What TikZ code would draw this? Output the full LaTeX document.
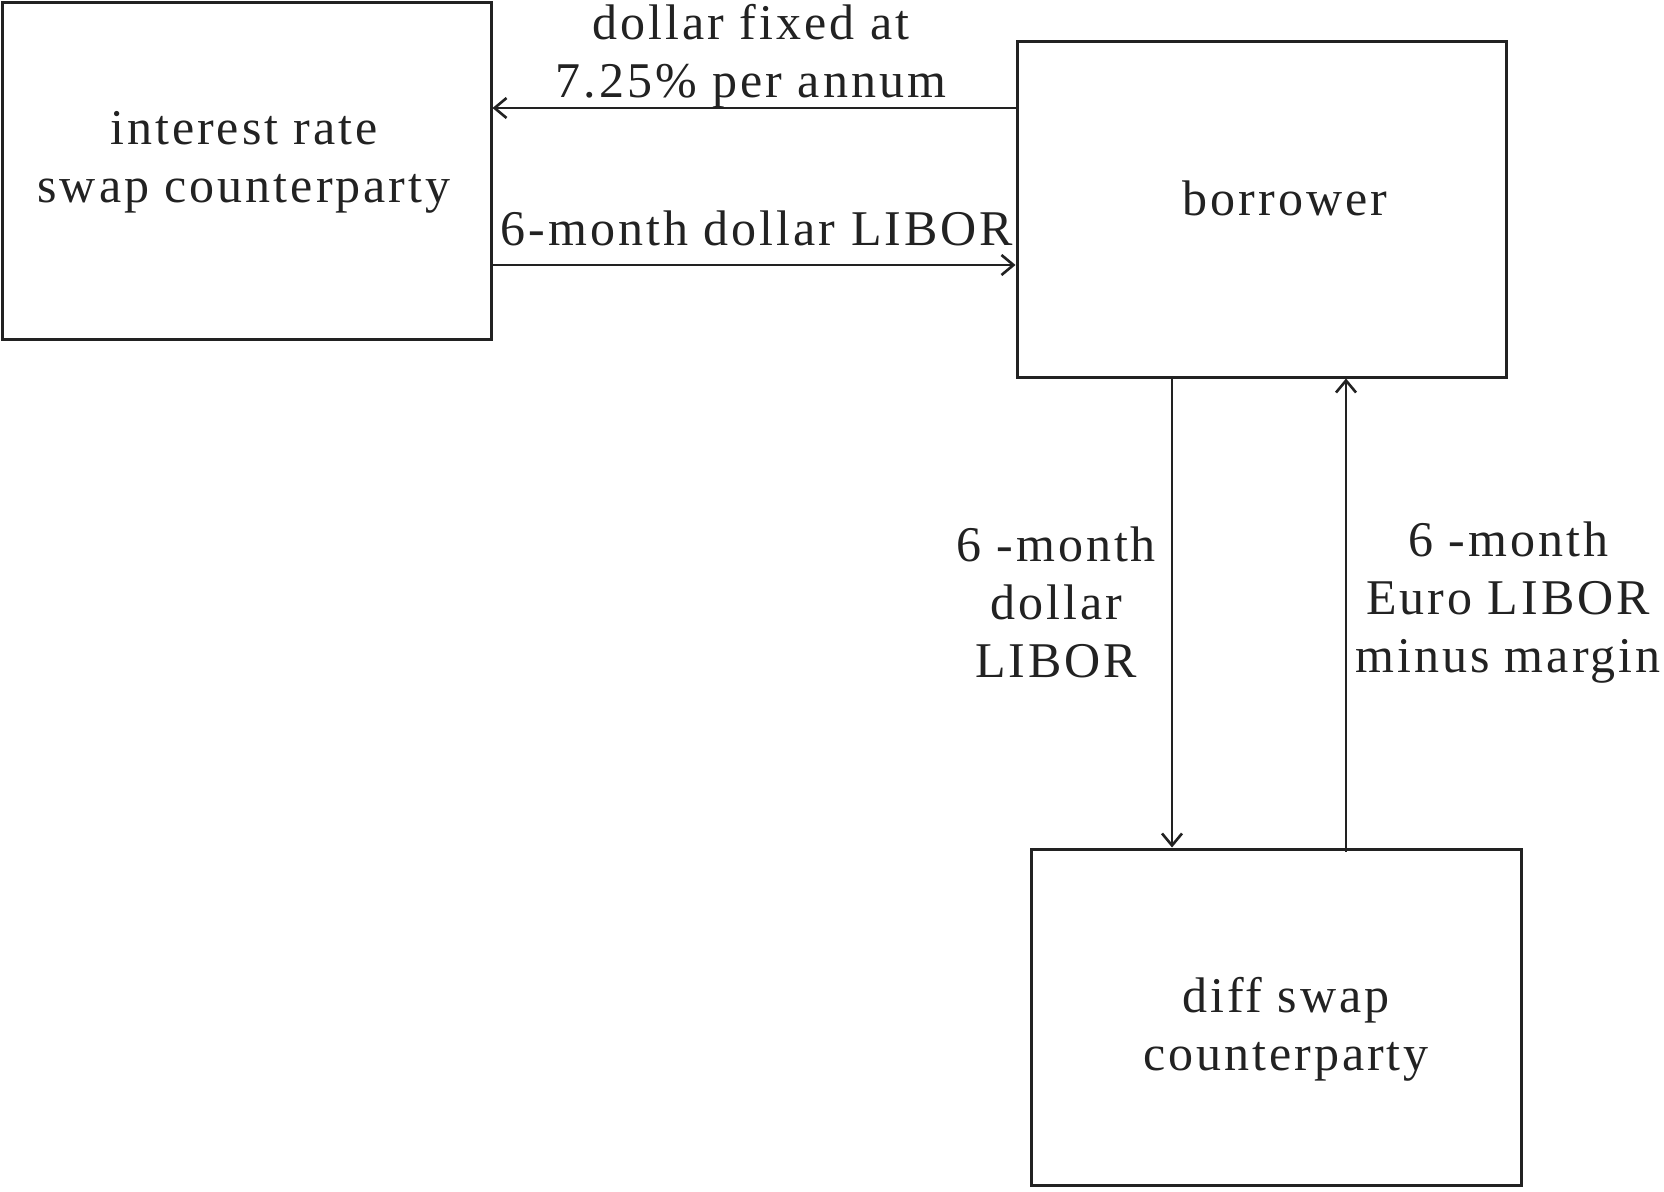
\documentclass[tikz,border=0pt]{standalone}
\usepackage{fontspec}
\setmainfont{Liberation Serif}[LetterSpace=6.0]
\usetikzlibrary{arrows.meta}
\definecolor{ink}{HTML}{222222}
\begin{document}
\begin{tikzpicture}[x=1pt,y=-1pt,
  party/.style={draw=ink,line width=3pt,rectangle,inner sep=0pt},
  txt/.style={text=ink,align=center,inner sep=0pt,font=\fontsize{50}{58}\selectfont},
  flow/.style={draw=ink,line width=2.6pt,-{Straight Barb[length=12pt,width=20pt]}}]
\useasboundingbox (0,0) rectangle (1664,1191);
\fill[white] (0,0) rectangle (1664,1191);

% the three parties
\node[party,minimum width=489pt,minimum height=337pt] (irs) at (246.5,171) {};
\node[party,minimum width=489pt,minimum height=336pt] (borrower) at (1261.5,209) {};
\node[party,minimum width=490pt,minimum height=336pt] (diff) at (1276,1017) {};

\node[txt] (irstxt) at (244,162) {interest rate\\swap counterparty};
\node[txt] (borrowertxt) at (1285,198) {borrower};
\node[txt] (difftxt) at (1286,1029) {diff swap\\counterparty};

% helper positions for the flows
\coordinate (yfixed) at (0,108);
\coordinate (yfloat) at (0,265);
\coordinate (xdown) at (1172,0);
\coordinate (xup) at (1346,0);

\draw[flow] (borrower.west |- yfixed) -- (irs.east |- yfixed);
\draw[flow] (irs.east |- yfloat) -- (borrower.west |- yfloat);
\draw[flow] (borrower.south -| xdown) -- (diff.north -| xdown);
\draw[flow] ([yshift=-4pt]diff.north -| xup) -- (borrower.south -| xup);

% flow labels
\node[txt] (fixedlbl) at (751,56) {dollar fixed at\\7.25\% per annum};
\node[txt] (floatlbl) at (757,228) {6-month dollar LIBOR};
\node[txt] (downlbl) at (1056,602) {6 -month\\dollar\\LIBOR};
\node[txt] (uplbl) at (1508,603) {6 -month\\Euro LIBOR\\minus margin};
\end{tikzpicture}
\end{document}
